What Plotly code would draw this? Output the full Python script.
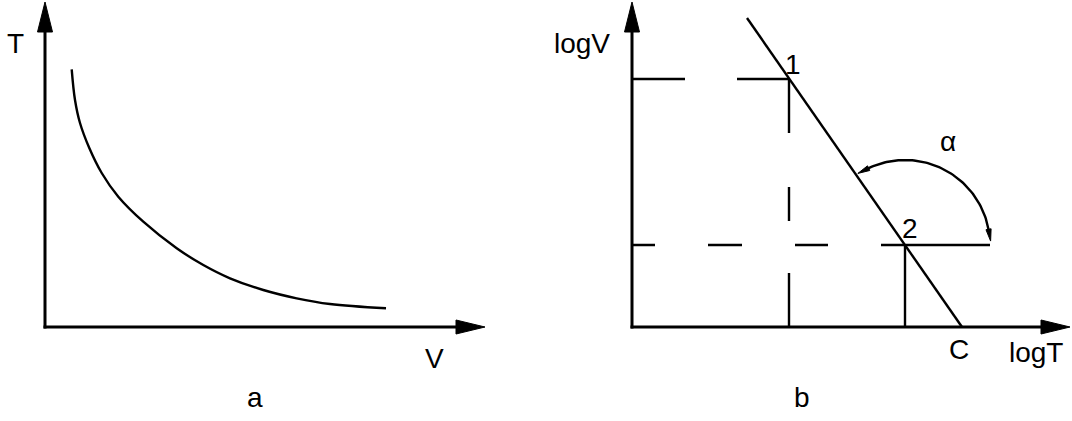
import numpy as np
import plotly.graph_objects as go

# ---- Panel a: T versus V (hyperbola-like decay), coordinates relative to the panel origin
curve_v = [26.7, 30, 35, 44.3, 56.7, 73.3, 98.3, 131.7, 158.3, 185, 218.3, 251.7, 285, 341]
curve_t = [257.7, 227, 204, 179, 154, 130.3, 105.3, 78.7, 62, 48.7, 37, 28.7, 23, 18.7]

# ---- Panel b: logV versus logT straight line through points 1 and 2, meeting the logT axis at C
line_logt = [115, 330]
line_logv = [309, 0]
point1 = (157, 248)
point2 = (273, 82)
c_logt = 330

# angle alpha mark: arc around point 2 (degrees, radius)
alpha_arc = (10, 116)
alpha_radius = 85

FONT = dict(family="Liberation Sans, Arial, sans-serif", size=28, color="black")
BLACK = "black"
LW = 2.4

fig = go.Figure()


def seg(xs, ys, ax, width=LW, dash="solid", shape="linear"):
    fig.add_trace(go.Scatter(
        x=xs, y=ys, xaxis=ax, yaxis="y", mode="lines",
        line=dict(color=BLACK, width=width, dash=dash, shape=shape),
        hoverinfo="skip", showlegend=False))


def head(tip, direction, length, half_w, ax):
    d = np.array(direction, dtype=float)
    d /= np.linalg.norm(d)
    n = np.array([-d[1], d[0]])
    t = np.array(tip, dtype=float)
    base = t - d * length
    p1 = base + n * half_w
    p2 = base - n * half_w
    fig.add_trace(go.Scatter(
        x=[t[0], p1[0], p2[0], t[0]], y=[t[1], p1[1], p2[1], t[1]],
        xaxis=ax, yaxis="y", mode="lines", fill="toself",
        fillcolor=BLACK, line=dict(color=BLACK, width=1),
        hoverinfo="skip", showlegend=False))


def axes_pair(ax, x_tip):
    # vertical axis with arrow
    seg([0, 0], [-1.5, 296], ax, width=3)
    head((0, 325), (0, 1), 30, 7.5, ax)
    # horizontal axis with arrow
    seg([-1.5, x_tip - 28], [0, 0], ax, width=3)
    head((x_tip, 0), (1, 0), 29, 7, ax)


# Panel a
axes_pair("x", 440)
seg(curve_v, curve_t, "x", shape="spline")

# Panel b
axes_pair("x2", 438)
seg(line_logt, line_logv, "x2")

# projections of point 1
seg([0, point1[0]], [point1[1], point1[1]], "x2", dash="53px,52px,60px")
seg([point1[0], point1[0]], [point1[1], 0], "x2", dash="54px,54px,34px,52px,60px")
# projections of point 2, horizontal reference continuing past the line
seg([0, point2[0] + 85], [point2[1], point2[1]], "x2",
    dash="23px,53px,34px,53px,33px,53px,130px")
seg([point2[0], point2[0]], [point2[1], 0], "x2")

# alpha arc with arrowheads at both ends
th = np.radians(np.linspace(alpha_arc[0], alpha_arc[1], 80))
ax_x = point2[0] + alpha_radius * np.cos(th)
ax_y = point2[1] + alpha_radius * np.sin(th)
seg(ax_x, ax_y, "x2")
for ang, sgn in ((alpha_arc[0], -1), (alpha_arc[1], 1)):
    a = np.radians(ang)
    end = (point2[0] + alpha_radius * np.cos(a), point2[1] + alpha_radius * np.sin(a))
    d = (sgn * -np.sin(a), sgn * np.cos(a))
    tip = (end[0] + d[0] * 11, end[1] + d[1] * 11)
    head(tip, d, 12, 2.6, "x2")

labels = [
    ("x", -30, 284, "T"),
    ("x", 389, -31, "V"),
    ("x", 210, -70, "a"),
    ("x2", -50, 284, "logV"),
    ("x2", point1[0] + 4, point1[1] + 15, "1"),
    ("x2", point2[0] + 5, point2[1] + 17, "2"),
    ("x2", 316, 186, "α"),
    ("x2", c_logt - 3, -22, "C"),
    ("x2", 404, -25, "logT"),
    ("x2", 170, -70, "b"),
]
for ax, x, y, t in labels:
    fig.add_annotation(x=x, y=y, xref=ax, yref="y", text=t, showarrow=False,
                       font=FONT, xanchor="center", yanchor="middle")

hidden = dict(visible=False, showgrid=False, zeroline=False, fixedrange=True)
fig.update_layout(
    width=1072, height=421,
    margin=dict(l=0, r=0, t=0, b=0),
    paper_bgcolor="white", plot_bgcolor="white",
    xaxis=dict(range=[-45, 1027], domain=[0, 1], **hidden),
    xaxis2=dict(range=[-632, 440], overlaying="x", anchor="y", **hidden),
    yaxis=dict(range=[-94, 327], domain=[0, 1], **hidden),
    showlegend=False,
)

fig.write_html("out.html")
